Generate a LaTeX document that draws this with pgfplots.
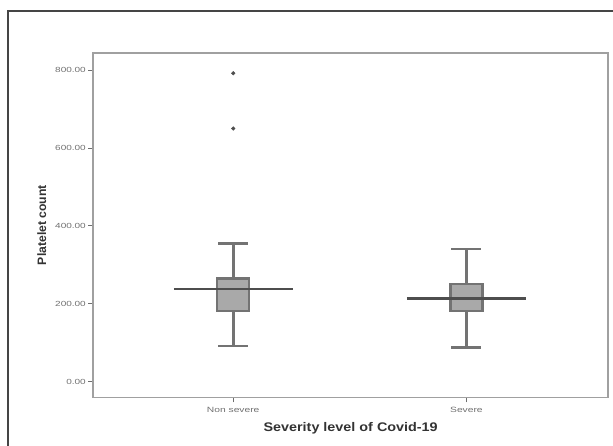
\documentclass[border=0pt]{standalone}
\usepackage{pgfplots}
\pgfplotsset{compat=1.18}
\usepackage{fontspec}
\setmainfont{Liberation Sans}
\newfontfamily\widefont[FakeStretch=1.35]{Liberation Sans}
\newfontfamily\titlefont[FakeStretch=1.15]{Liberation Sans}
\definecolor{axgray}{HTML}{A0A0A0}
\definecolor{tickc}{HTML}{6E6E6E}
\definecolor{boxfill}{HTML}{A9A9A9}
\definecolor{boxline}{HTML}{737373}
\definecolor{meanline}{HTML}{4E4E4E}
\definecolor{ticktext}{HTML}{707070}
\definecolor{outerc}{HTML}{454545}
\begin{document}
\begin{tikzpicture}
\useasboundingbox (0pt,0pt) rectangle (613pt,446pt);
\draw[outerc, line width=1.1pt] (8pt,0pt) -- (8pt,435pt) -- (613pt,435pt);
\begin{axis}[
  at={(93.3pt,48.5pt)}, anchor=south west,
  scale only axis, width=514.7pt, height=344.2pt,
  xmin=0.4, xmax=2.607, ymin=-40.6, ymax=843,
  axis line style={axgray, line width=1.7pt},
  xtick={1,2}, xticklabels={Non severe, Severe},
  ytick={0,200,400,600,800},
  tick align=outside, tick pos=left,
  major tick length=5pt,
  tick style={tickc, line width=0.9pt},
  x tick label style={font=\widefont\fontsize{7.6}{8}\selectfont, text=ticktext, yshift=-1pt},
  y tick label style={font=\widefont\fontsize{7.4}{8}\selectfont, text=ticktext, xshift=1pt},
  yticklabel style={/pgf/number format/fixed, /pgf/number format/fixed zerofill, /pgf/number format/precision=2, /pgf/number format/assume math mode=true},
  xlabel={\textbf{Severity level of Covid-19}},
  ylabel={\textbf{Platelet count}},
  xlabel style={font=\titlefont\fontsize{12.5}{13}\selectfont, text=black!80, at={(axis description cs:0.5,-0.0895)}, anchor=center},
  ylabel style={font=\fontsize{12.2}{13}\selectfont, text=black!80, at={(axis description cs:-0.1003,0.501)}, anchor=center},
  clip=false,
]
% Non severe: whiskers 92 / 355, quartiles 182 / 265, line 238
\addplot[boxline, line width=2.6pt] coordinates {(1,265) (1,355)};
\addplot[boxline, line width=2.6pt] coordinates {(1,182) (1,92)};
\addplot[boxline, line width=2.4pt] coordinates {(0.9355,355) (1.0645,355)};
\addplot[boxline, line width=2.4pt] coordinates {(0.9355,92) (1.0645,92)};
\addplot[draw=boxline, fill=boxfill, line width=2.2pt] coordinates {(0.9315,182) (1.0685,182) (1.0685,265) (0.9315,265)} -- cycle;
% Severe: whiskers 88 / 340.6, quartiles 181.5 / 250, line 214
\addplot[boxline, line width=2.6pt] coordinates {(2,250) (2,340.6)};
\addplot[boxline, line width=2.6pt] coordinates {(2,181.5) (2,88)};
\addplot[boxline, line width=2.4pt] coordinates {(1.9355,340.6) (2.0645,340.6)};
\addplot[boxline, line width=2.4pt] coordinates {(1.9355,88) (2.0645,88)};
\addplot[draw=boxline, fill=boxfill, line width=2.2pt] coordinates {(1.9315,181.5) (2.0685,181.5) (2.0685,250) (1.9315,250)} -- cycle;
% long horizontal lines
\addplot[meanline, line width=2.6pt] coordinates {(0.745,238) (1.255,238)};
\addplot[meanline, line width=2.6pt] coordinates {(1.745,214) (2.255,214)};
% outliers
\addplot[only marks, mark=*, mark size=1.8pt, meanline] coordinates {(1,791.7) (1,650)};
\end{axis}
\end{tikzpicture}
\end{document}
